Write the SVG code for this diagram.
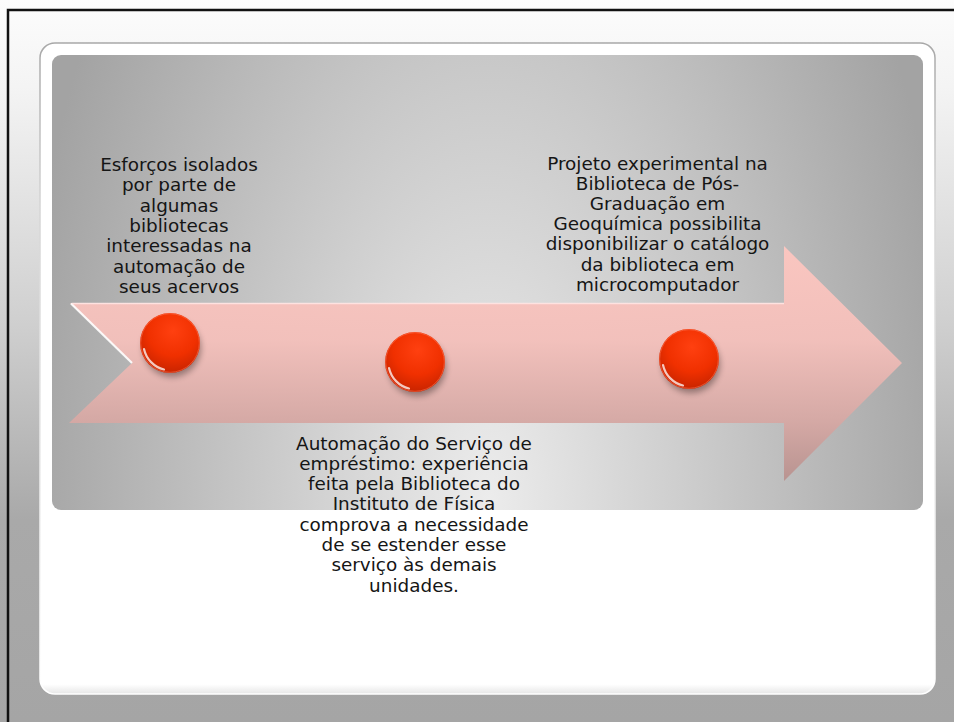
<svg xmlns="http://www.w3.org/2000/svg" width="954" height="722" viewBox="0 0 954 722">
<defs>
<linearGradient id="bg" x1="0" y1="0" x2="0" y2="1">
<stop offset="0" stop-color="#fcfcfc"/>
<stop offset="0.12" stop-color="#f4f4f4"/>
<stop offset="0.45" stop-color="#cfcfcf"/>
<stop offset="0.72" stop-color="#a9a9a9"/>
<stop offset="1" stop-color="#a5a5a5"/>
</linearGradient>
<linearGradient id="cardStroke" x1="0" y1="0" x2="0" y2="1">
<stop offset="0" stop-color="#a8a8a8"/>
<stop offset="0.25" stop-color="#d5d5d5"/>
<stop offset="1" stop-color="#ffffff"/>
</linearGradient>
<linearGradient id="cardFill" x1="0" y1="0" x2="0" y2="1">
<stop offset="0" stop-color="#ffffff"/>
<stop offset="0.985" stop-color="#ffffff"/>
<stop offset="1" stop-color="#e6e6e6"/>
</linearGradient>
<radialGradient id="panel" gradientUnits="userSpaceOnUse" cx="0" cy="0" r="1" gradientTransform="translate(488,500) scale(470,900)">
<stop offset="0" stop-color="#ececec"/>
<stop offset="1" stop-color="#a3a3a3"/>
</radialGradient>
<linearGradient id="arrowFill" x1="0" y1="0" x2="0" y2="1">
<stop offset="0" stop-color="#fcc6c0"/>
<stop offset="0.4" stop-color="#f3c0bb"/>
<stop offset="0.75" stop-color="#d5a8a4"/>
<stop offset="1" stop-color="#b8928f"/>
</linearGradient>
<radialGradient id="ball" cx="0.55" cy="0.3" r="0.75">
<stop offset="0" stop-color="#ff4010"/>
<stop offset="0.55" stop-color="#f03000"/>
<stop offset="1" stop-color="#c22200"/>
</radialGradient>
<filter id="shadow" x="-50%" y="-50%" width="200%" height="200%">
<feGaussianBlur stdDeviation="3"/>
</filter>
<g id="btn">
<circle cx="2" cy="5" r="29" fill="#000" opacity="0.35" filter="url(#shadow)"/>
<circle cx="0" cy="0" r="30" fill="url(#ball)"/>
<circle cx="0" cy="0" r="29.3" fill="none" stroke="#ff7a5a" stroke-width="1" opacity="0.5"/>
<path d="M-26,6 A27,27 0 0 0 -6,26.5" fill="none" stroke="#ffffff" stroke-width="2.2" stroke-linecap="round" opacity="0.75"/>
</g>
</defs>
<style>
.t{font-family:"DejaVu Sans","Verdana",sans-serif;font-size:18.4px;fill:#151515;text-anchor:middle}
</style>
<rect x="0" y="0" width="954" height="722" fill="url(#bg)"/>
<path d="M8,722 L8,10 L954,10" fill="none" stroke="#111" stroke-width="2.5"/>
<rect x="40" y="43" width="895" height="651" rx="15" fill="url(#cardFill)" stroke="url(#cardStroke)" stroke-width="1.5"/>
<rect x="52" y="55" width="871" height="455" rx="9" fill="url(#panel)"/>
<g id="arrow">
<path d="M70,303 L784,303 L784,246 L902,363 L784,481 L784,423 L69,423 L132,363 Z" fill="url(#arrowFill)" opacity="0.97"/>
<path d="M71,303.5 L132,363" fill="none" stroke="#ffffff" stroke-width="2.2" opacity="0.9"/>
<path d="M72,303.5 L784,303.5" fill="none" stroke="#ffe6e3" stroke-width="1.5" opacity="0.9"/>
</g>
<g id="connectors"/>
<g id="node1">
<use href="#btn" x="170" y="343"/>
<text class="t"><tspan x="179" y="171">Esforços isolados</tspan><tspan x="179" y="191.3">por parte de</tspan><tspan x="179" y="211.6">algumas</tspan><tspan x="179" y="231.9">bibliotecas</tspan><tspan x="179" y="252.2">interessadas na</tspan><tspan x="179" y="272.5">automação de</tspan><tspan x="179" y="292.8">seus acervos</tspan></text>
</g>
<g id="node2">
<use href="#btn" x="415" y="362"/>
<text class="t"><tspan x="414" y="449.5">Automação do Serviço de</tspan><tspan x="414" y="469.8">empréstimo: experiência</tspan><tspan x="414" y="490.1">feita pela Biblioteca do</tspan><tspan x="414" y="510.4">Instituto de Física</tspan><tspan x="414" y="530.7">comprova a necessidade</tspan><tspan x="414" y="551">de se estender esse</tspan><tspan x="414" y="571.3">serviço às demais</tspan><tspan x="414" y="591.6">unidades.</tspan></text>
</g>
<g id="node3">
<use href="#btn" x="689" y="359"/>
<text class="t"><tspan x="657.5" y="169.5">Projeto experimental na</tspan><tspan x="657.5" y="189.7">Biblioteca de Pós-</tspan><tspan x="657.5" y="209.9">Graduação em</tspan><tspan x="657.5" y="230.1">Geoquímica possibilita</tspan><tspan x="657.5" y="250.3">disponibilizar o catálogo</tspan><tspan x="657.5" y="270.5">da biblioteca em</tspan><tspan x="657.5" y="290.7">microcomputador</tspan></text>
</g>
</svg>
